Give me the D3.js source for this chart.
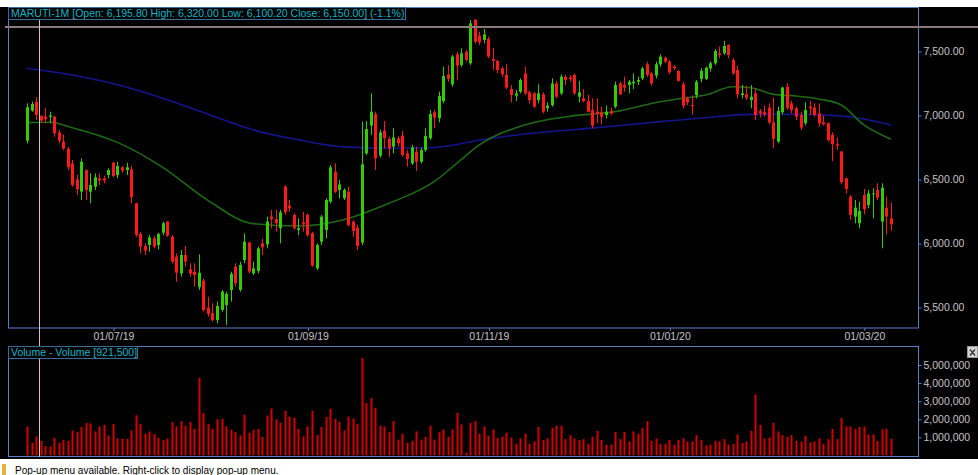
<!DOCTYPE html>
<html>
<head>
<meta charset="utf-8">
<title>MARUTI-1M</title>
<script src="https://d3js.org/d3.v7.min.js"></script>
<style>
  body { margin: 0; background: #fff; overflow: hidden; }
  text { font-family: Tahoma, "Liberation Sans", Arial, sans-serif; }
</style>
</head>
<body>
<script>
// daily candles, left to right
const opens = [
  6803,7038,7105,6998,6991,6990,6991,6868,6796,6741, 6626,6501,6405,6574,6405,6444,6509,6509,6535,6631,
  6535,6595,6574,6579,6314,6074,5980,5988,6040,5988, 6085,6171,6053,5897,5767,5910,5798,5780,5658,5710,
  5499,5455,5403,5481,5520,5637,5819,5637,5871,6007, 5767,5785,6001,5993,6210,6191,6119,6444,6296,6223,
  6106,6165,6223,6079,5806,6014,6106,6327,6561,6418, 6353,6405,6171,6124,6007,6704,6921,7012,6686,6882,
  6816,6757,6822,6842,6704,6626,6717,6639,6731,6822, 7025,6978,7113,7322,7244,7478,7394,7499,7408,7746,
  7624,7590,7598,7441,7426,7369,7316,7207,7155,7186, 7329,7181,7173,7121,7165,7056,7082,7251,7173,7303,
  7296,7316,7147,7134,7113,7043,7030,7025,7004,7035, 7069,7251,7238,7238,7251,7264,7290,7400,7329,7311,
  7400,7452,7421,7382,7348,7244,7134,7082,7160,7285, 7285,7368,7408,7486,7486,7551,7434,7355,7160,7165,
  7121,7173,7035,7025,7061,6946,6796,7025,7225,7095, 7056,7004,6939,7069,7061,7017,6947,6939,6848,6775,
  6718,6509,6366,6210,6158,6379,6301,6384,6418,6171, 6280,6195.8
];
const highs = [
  7095,7108,7142,7000,7056,7030,6995,6887,6853,6756, 6652,6535,6665,6580,6548,6548,6548,6530,6587,6639,
  6639,6605,6631,6605,6319,6092,6001,6066,6058,6084, 6171,6176,6066,5923,5949,5980,5845,5845,5915,5728,
  5585,5533,5546,5637,5624,5780,5845,5858,6079,6014, 5858,5975,6035,6210,6262,6262,6262,6457,6340,6236,
  6197,6249,6236,6092,6001,6223,6353,6613,6626,6496, 6431,6444,6184,6145,6952,6957,7173,7030,6887,6957,
  6835,6900,6835,6879,6731,6770,6757,6749,6900,7043, 7043,7186,7381,7394,7473,7494,7525,7512,7746,7754,
  7655,7676,7616,7525,7434,7382,7400,7238,7199,7290, 7381,7192,7186,7244,7181,7103,7290,7270,7322,7316,
  7316,7329,7270,7207,7160,7134,7134,7069,7077,7061, 7264,7264,7303,7277,7329,7303,7381,7420,7342,7420,
  7478,7460,7434,7395,7356,7264,7147,7155,7277,7369, 7382,7421,7520,7538,7582,7556,7447,7389,7238,7233,
  7238,7212,7051,7077,7095,7139,7069,7225,7251,7113, 7069,7030,7103,7113,7095,7095,6999,6947,6869,6827,
  6723,6514,6379,6340,6327,6426,6418,6431,6470,6470, 6366,6320
];
const lows = [
  6782,7030,6965,6950,6939,6939,6834,6782,6730,6574, 6444,6379,6340,6340,6314,6418,6457,6470,6509,6517,
  6509,6553,6535,6314,6053,5923,5910,5936,5962,5954, 6066,6053,5845,5702,5741,5819,5741,5663,5637,5468,
  5429,5390,5377,5468,5364,5546,5663,5624,5845,5767, 5754,5767,5910,5962,6118,6092,6001,6223,6249,6106,
  6066,6093,6053,5819,5793,5988,6040,6314,6392,6353, 6340,6132,6053,5949,5988,6691,6848,6574,6671,6744,
  6678,6704,6757,6678,6600,6613,6566,6626,6718,6809, 6900,6946,7095,7264,7225,7277,7381,7421,7395,7564,
  7551,7564,7447,7356,7330,7303,7207,7103,7113,7173, 7160,7095,7056,7095,7017,7030,7069,7134,7160,7238,
  7264,7160,7103,7103,7025,6900,6939,6931,6978,7004, 7056,7160,7186,7173,7207,7238,7277,7303,7233,7290,
  7381,7408,7322,7355,7264,7056,7082,7009,7134,7259, 7277,7343,7395,7447,7473,7447,7316,7134,7134,7121,
  7056,6965,6983,6991,6931,6744,6783,7009,7043,7017, 6965,6887,6921,7004,6991,6913,6921,6796,6645,6731,
  6462,6392,6184,6158,6119,6228,6275,6197,6340,5962, 6072,6100.2
];
const closes = [
  7064,7090,7004,6960,6970,7000,6861,6803,6743,6595, 6457,6423,6639,6418,6457,6517,6491,6491,6574,6527,
  6605,6569,6595,6361,6066,5975,5944,6048,5975,6074, 6158,6061,5858,5772,5910,5858,5767,5754,5772,5481,
  5450,5403,5512,5624,5606,5762,5689,5832,6014,5780, 5806,5962,5970,6171,6191,6158,6244,6244,6275,6119,
  6119,6150,6066,5827,5988,6210,6340,6595,6405,6462, 6418,6145,6098,5981,6618,6894,7030,6665,6868,6822,
  6744,6829,6783,6691,6660,6751,6639,6730,6840,7012, 6983,7153,7309,7285,7460,7389,7486,7434,7720,7577,
  7572,7634,7460,7426,7356,7322,7218,7160,7173,7277, 7173,7121,7069,7173,7030,7077,7251,7147,7303,7277,
  7285,7173,7181,7113,7030,6921,7012,6991,7030,7017, 7238,7165,7218,7264,7264,7277,7368,7316,7251,7400,
  7460,7421,7337,7369,7270,7077,7103,7072,7264,7348, 7374,7408,7504,7473,7543,7473,7330,7165,7173,7139,
  7147,7004,7017,7009,6946,6817,7035,7218,7061,7043, 6991,6905,7043,7056,7004,6939,6931,6809,6775,6764,
  6478,6426,6223,6280,6254,6270,6392,6392,6358,6436, 6210,6150
];
// volume, millions of shares
const volumesM = [
  1.60,0.70,1.05,0.81,0.52,0.48,0.96,0.70,0.87,0.81, 1.38,1.29,1.57,1.80,1.77,1.33,1.60,1.69,1.10,1.73,
  0.94,0.92,0.92,1.38,2.21,1.75,1.20,1.33,1.18,0.98, 0.85,0.94,1.84,1.60,1.90,1.64,1.84,1.47,4.29,2.34,
  1.75,1.47,1.99,2.03,1.60,1.42,1.29,1.10,2.25,1.25, 1.42,1.47,1.03,2.21,2.60,1.99,1.80,2.47,2.15,2.08,
  1.47,1.05,1.60,2.47,1.12,1.57,2.12,2.58,2.03,1.86, 1.38,2.14,2.04,1.73,5.38,2.89,3.17,2.63,1.64,1.60,
  1.29,1.90,0.87,1.20,0.70,0.81,1.33,0.87,1.03,1.64, 0.87,1.29,1.44,1.03,1.44,2.36,1.71,0.15,1.80,1.90,
  1.20,1.60,1.09,1.44,0.96,1.03,1.25,0.99,0.64,0.94, 1.20,0.63,0.77,1.57,0.85,0.94,1.51,1.64,1.64,0.90,
  1.12,0.94,0.85,0.90,0.64,1.03,1.36,0.85,0.59,0.59, 1.29,0.90,1.29,0.77,1.33,1.20,1.51,1.90,0.81,0.94,
  0.64,0.64,0.85,0.59,0.85,0.94,0.77,0.77,1.12,0.85, 0.55,0.59,0.81,0.77,0.90,0.59,0.63,1.16,0.68,0.77,
  1.36,3.37,1.69,0.94,0.99,1.80,1.33,1.12,1.03,1.12, 0.81,0.77,1.09,0.72,0.77,0.94,0.64,0.90,1.47,0.90,
  2.08,1.60,1.60,1.47,1.57,1.60,1.16,1.16,0.81,1.44, 1.47,0.9215
];
// moving averages, read at these candle positions
const maSlowIdx = [0,10,20,30,40,50,60,70,80,90,100,110,120,130,140,145,150,160,170,180,185,191];
const maSlowVal = [7369,7316,7240,7135,7010,6888,6810,6755,6744,6750,6806,6856,6887,6918,6952,6967,6983,7009,7009,6996,6973,6926];
const maFastIdx = [0,5,10,20,30,40,50,60,70,80,90,95,100,110,120,130,140,145,150,156,160,165,170,175,180,185,191];
const maFastVal = [6944,6947,6905,6790,6595,6337,6155,6137,6186,6314,6483,6626,6770,6926,6994,7030,7108,7135,7160,7225,7217,7165,7152,7129,7082,6926,6814];

const priceTicks = [5500, 6000, 6500, 7000, 7500];
const volumeTicksM = [1, 2, 3, 4, 5];
const dateTickIdx = [19, 62, 102, 142, 185];
const dateTickLabels = ["01/07/19", "01/09/19", "01/11/19", "01/01/20", "01/03/20"];

const titleText = "MARUTI-1M [Open: 6,195.80  High: 6,320.00  Low: 6,100.20  Close: 6,150.00] (-1.1%)";
const volTitleText = "Volume - Volume [921,500]";
const statusText = "Pop-up menu available. Right-click to display pop-up menu.";
const cursorIdx = 2.75, cursorPrice = 7690;

const W = 978, H = 475;
const frame = "#5a7ec8", axisText = "#c4c4c4", titleCol = "#12b4c6";
const up = "#33cc00", down = "#ff1a1a";

const svg = d3.select("body").append("svg")
    .attr("width", W).attr("height", H);
svg.append("rect").attr("width", W).attr("height", H).attr("fill", "#fff");
svg.append("rect").attr("x", 0).attr("y", 7).attr("width", W).attr("height", 452).attr("fill", "#000");

const N = closes.length;
const x = d3.scaleLinear().domain([0, N - 1]).range([27, 891]);
const y = d3.scaleLinear().domain([5500, 7500]).range([307.5, 51.5]);
const yv = d3.scaleLinear().domain([0, 5]).range([455.4, 365]);
const px = i => Math.round(x(i));

// clip for the price pane
svg.append("clipPath").attr("id", "pclip").append("rect")
    .attr("x", 9).attr("y", 8).attr("width", 909).attr("height", 320);

const pane = svg.append("g").attr("clip-path", "url(#pclip)");

// moving averages
const ma = (idx, val) => d3.line()
    .x((d, k) => x(idx[k])).y(d => y(d))
    .curve(d3.curveMonotoneX)(val);
pane.append("path").attr("d", ma(maSlowIdx, maSlowVal))
    .attr("fill", "none").attr("stroke", "#14148c").attr("stroke-width", 1.6);
pane.append("path").attr("d", ma(maFastIdx, maFastVal))
    .attr("fill", "none").attr("stroke", "#1e6a14").attr("stroke-width", 1.6);

// candles
const idx = d3.range(N);
const candle = pane.selectAll("g.c").data(idx).join("g").attr("class", "c");
candle.append("line")
    .attr("x1", i => px(i) + 0.5).attr("x2", i => px(i) + 0.5)
    .attr("y1", i => y(highs[i])).attr("y2", i => y(lows[i]))
    .attr("stroke", i => closes[i] >= opens[i] ? up : down);
candle.append("rect")
    .attr("x", i => px(i) - 1)
    .attr("width", 3)
    .attr("y", i => y(Math.max(opens[i], closes[i])))
    .attr("height", i => Math.max(1, Math.abs(y(opens[i]) - y(closes[i]))))
    .attr("fill", i => closes[i] >= opens[i] ? up : down);

// volume bars
svg.append("g").selectAll("rect").data(idx).join("rect")
    .attr("x", i => px(i) - 0.5)
    .attr("width", 2)
    .attr("y", i => yv(volumesM[i]))
    .attr("height", i => yv(0) - yv(volumesM[i]))
    .attr("fill", "#d20000");

// pane frames
svg.append("rect").attr("x", 8.5).attr("y", 7.5).attr("width", 910).attr("height", 320.5)
    .attr("fill", "none").attr("stroke", frame);
svg.append("rect").attr("x", 8.5).attr("y", 346.5).attr("width", 910).attr("height", 110)
    .attr("fill", "none").attr("stroke", frame);

// axes
const styleAxis = g => {
    g.select(".domain").remove();
    g.selectAll(".tick line").attr("stroke", frame);
    g.selectAll(".tick text").attr("fill", axisText).style("font-size", "10.5px");
};
svg.append("g").attr("transform", "translate(918.5,0)")
    .call(d3.axisRight(y).tickValues(priceTicks).tickFormat(d3.format(",.2f")).tickSize(3).tickPadding(2))
    .call(styleAxis);
svg.append("g").attr("transform", "translate(918.5,0)")
    .call(d3.axisRight(yv).tickValues(volumeTicksM).tickFormat(d => d3.format(",")(d * 1e6)).tickSize(3).tickPadding(2))
    .call(styleAxis);
svg.append("g").attr("transform", "translate(0.5,328)")
    .call(d3.axisBottom(x).tickValues(dateTickIdx).tickFormat((d, k) => dateTickLabels[k]).tickSize(3).tickPadding(2))
    .call(styleAxis);

// cursor lines
svg.append("line").attr("x1", 5).attr("x2", W).attr("y1", Math.round(y(cursorPrice)))
    .attr("y2", Math.round(y(cursorPrice))).attr("stroke", "#8c7878").attr("stroke-width", 2);
svg.append("line").attr("x1", Math.round(x(cursorIdx)) + 0.5).attr("x2", Math.round(x(cursorIdx)) + 0.5)
    .attr("y1", 7).attr("y2", 457).attr("stroke", "#dcc0c0");

// pane titles
const label = (bx, by, bw, txt) => {
    svg.append("rect").attr("x", bx + 0.5).attr("y", by + 0.5).attr("width", bw).attr("height", 12)
        .attr("fill", "#000").attr("stroke", "#3b6a9c");
    svg.append("text").attr("x", bx + 3).attr("y", by + 10).attr("fill", titleCol)
        .style("font-size", "10.5px").text(txt);
};
label(8, 7, 397, titleText);
label(8, 346, 129, volTitleText);

// close box on the volume pane
svg.append("rect").attr("x", 967.5).attr("y", 346.5).attr("width", 10).attr("height", 11)
    .attr("fill", "#d6d3ce").attr("stroke", "#9a9a9a");
svg.append("path").attr("d", "M970,349.5 L975,355.5 M975,349.5 L970,355.5")
    .attr("stroke", "#333").attr("stroke-width", 1.3);

// status bar
svg.append("rect").attr("x", 2).attr("y", 464).attr("width", 4).attr("height", 11).attr("fill", "#e8b23a");
svg.append("text").attr("x", 15).attr("y", 474).attr("fill", "#000")
    .style("font-size", "10px").text(statusText);
</script>
</body>
</html>
